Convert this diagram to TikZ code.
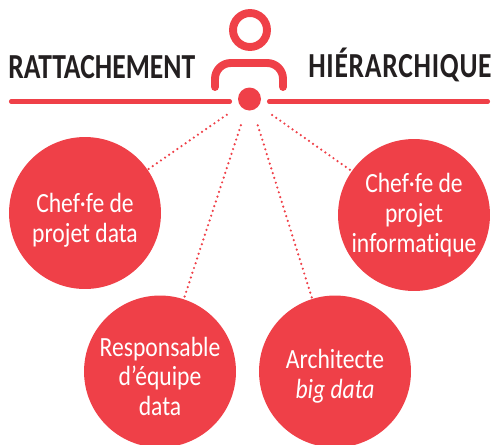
\documentclass[tikz,border=0pt]{standalone}
\usepackage{fontspec}
\setmainfont[FakeStretch=0.85,Ligatures=NoCommon]{Carlito}
\newfontfamily\fonttitre[FakeStretch=0.785]{Carlito}
\newfontfamily\fontdroite[FakeStretch=0.785,LetterSpace=2]{Carlito}
\definecolor{rouge}{HTML}{EF4048}
\definecolor{encre}{HTML}{231F20}
\tikzset{
  poste/.style={circle,fill=rouge,minimum size=3.04cm,inner sep=0pt},
  texte/.style={text=white,inner sep=0pt,align=center,font=\fontsize{15.8}{17}\selectfont},
  titre/.style={text=encre,inner sep=0pt,font=\fontsize{20}{20}\selectfont\bfseries},
  lien/.style={rouge,line width=1.4pt,line cap=round,dash pattern=on 0pt off 2.85pt,shorten <=9pt},
  trait/.style={rouge,line width=2.3pt,line cap=round},
  silhouette/.style={rouge,line width=4.5pt,line cap=round,rounded corners=9pt}
}
\begin{document}
\begin{tikzpicture}[x=0.02cm,y=-0.02cm]
            \useasboundingbox (0,0) rectangle (493,444);
            % personne
            \node[circle,draw=rouge,line width=4.5pt,minimum size=0.68cm,inner sep=0pt] (tete) at (250,30) {};
            \draw[silhouette] (215,87) -- (215,63) -- (283,63) -- (283,87);
            \node[circle,fill=rouge,minimum size=0.46cm,inner sep=0pt] (centre) at (249.5,99) {};
            % titres
            \node[titre,anchor=base west] (rattachement) at (8,78) {\fonttitre RATTACHEMENT};
            \node[titre,anchor=base east] (hierarchique) at (492,77) {\fontdroite HIÉRARCHIQUE};
            % filet
            \coordinate (filetA) at (11,101.5);
            \coordinate (filetB) at (230,101.5);
            \coordinate (filetC) at (269,101.5);
            \coordinate (filetD) at (488,101.5);
            \draw[trait] (filetA) -- (filetB);
            \draw[trait] (filetC) -- (filetD);
            % postes
            \node[poste] (chef) at (85,213) {};
            \node[poste] (info) at (414,215) {};
            \node[poste] (equipe) at (160,371.5) {};
            \node[poste] (archi) at (335,371.5) {};
            \node[texte] (chefT) at ([yshift=-4pt]chef) {Chef·fe de\\projet data};
            \node[texte] (infoT) at (info) {Chef·fe de\\projet\\informatique};
            \node[texte] (equipeT) at ([yshift=-2.8pt]equipe) {Responsable\\d’équipe\\data};
            \node[texte] (archiT) at ([yshift=-2.8pt]archi) {Architecte\\\textit{big data}};
            % liens
            \draw[lien] (centre) -- (chef);
            \draw[lien] (centre) -- (info);
            \draw[lien] (centre) -- (equipe);
            \draw[lien] (centre) -- (archi);
        \end{tikzpicture}
\end{document}
